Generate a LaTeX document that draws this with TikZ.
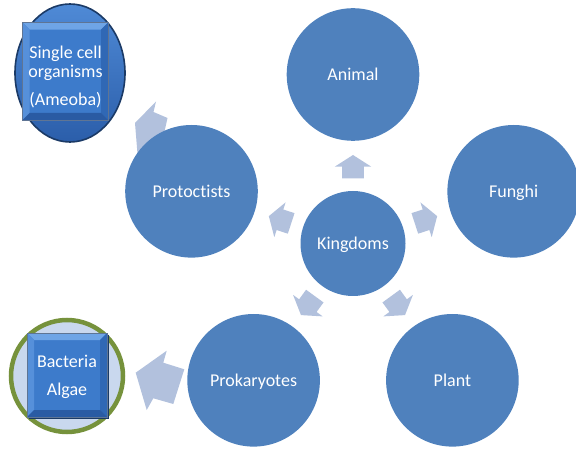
\documentclass[tikz,border=0pt]{standalone}
\usepackage{fontspec}
\setmainfont{Carlito}[Ligatures=NoCommon]
\usetikzlibrary{shapes.geometric}
\definecolor{circblue}{HTML}{4F81BD}
\definecolor{arrowblue}{HTML}{B2C1DD}
\definecolor{bevtop}{HTML}{6FA5E6}
\definecolor{bevleft}{HTML}{5690DA}
\definecolor{bevright}{HTML}{3068B5}
\definecolor{bevbot}{HTML}{2A5BA3}
\definecolor{bevmid}{HTML}{3D7BCB}
\definecolor{rimnavy}{HTML}{1B3A66}
\definecolor{ringtop}{HTML}{4F8AD6}
\definecolor{ringbot}{HTML}{2B5EAA}
\definecolor{ringgreen}{HTML}{76923C}
\definecolor{palefill}{HTML}{C9D8EE}
\newcommand\bevelrect[4]{%
  \fill[bevmid] (#1,#2) rectangle (#3,#4);
  \fill[bevtop] (#1,#2) -- (#3,#2) -- (#3-7,#2+7) -- (#1+7,#2+7) -- cycle;
  \fill[bevleft] (#1,#2) -- (#1+7,#2+7) -- (#1+7,#4-7) -- (#1,#4) -- cycle;
  \fill[bevright] (#3,#2) -- (#3-7,#2+7) -- (#3-7,#4-7) -- (#3,#4) -- cycle;
  \fill[bevbot] (#1,#4) -- (#1+7,#4-7) -- (#3-7,#4-7) -- (#3,#4) -- cycle;
  \draw[rimnavy!70, line width=0.6pt] (#1,#2) rectangle (#3,#4);
}
\tikzset{
  bigcirc/.style={circle, fill=circblue, inner sep=0pt, minimum size=132.6pt,
    text=white, font=\fontsize{18}{21}\selectfont, text height=12pt, text depth=0pt},
  kcirc/.style={bigcirc, minimum size=105pt},
  smallarrow/.style={fill=arrowblue},
  bigarrow/.style={fill=arrowblue},
  boxtext/.style={text=white, font=\fontsize{18}{21}\selectfont, anchor=base, inner sep=0pt}
}
\begin{document}
\begin{tikzpicture}[x=1pt,y=-1pt]
\useasboundingbox (0,0) rectangle (576,449);

% big arrows (behind circles)
\fill[bigarrow] (135.7,372.7) -- (166.7,350.7) -- (163.3,362.7) -- (184.3,369.3)
  -- (173.3,404) -- (153.3,398.3) -- (146.7,410) -- cycle;
\fill[bigarrow] (135,123) -- (156,101.5) -- (153.5,112) -- (167.5,118)
  -- (160,152) -- (142,147) -- (137.5,154) -- cycle;

% central node
\node[kcirc] (kingdoms) at (353,243.5) {Kingdoms};

% small arrows
\foreach \ang in {90,18,-54,-126,162}{
  \begin{scope}[shift={(kingdoms.center)}, rotate=\ang]
    \fill[smallarrow] (65,-10.8) -- (76.8,-10.8) -- (76.8,-18.3) -- (88.5,0)
      -- (76.8,18.3) -- (76.8,10.8) -- (65,10.8) -- cycle;
  \end{scope}
}

% outer circles
\node[bigcirc] (animal) at (353,74.5) {Animal};
\node[bigcirc] (funghi) at (513.7,191.3) {Funghi};
\node[bigcirc] (plant) at (452.4,380.3) {Plant};
\node[bigcirc] (prokaryotes) at (253.6,380.3) {Prokaryotes};
\node[bigcirc] (protoctists) at (191.5,191.3) {Protoctists};

% Ameoba ellipse
\node[ellipse, draw=rimnavy, line width=1.6pt, top color=ringtop, bottom color=ringbot,
  minimum width=110pt, minimum height=138pt, inner sep=0pt] (ameobaring) at (70,73) {};
\bevelrect{22.7}{22.7}{108}{120}
\node[boxtext] (single) at (65.5,58.3) {Single cell};
\node[boxtext] (organisms) at (65.5,77.3) {organisms};
\node[boxtext] (ameoba) at (65.5,105.5) {(Ameoba)};

% Bacteria circle
\node[circle, draw=ringgreen, fill=palefill, line width=4.5pt, minimum size=112pt, inner sep=0pt]
  (bactring) at (67,376) {};
\fill[rimnavy] (28.5,334.5) rectangle (108.5,418.5);
\bevelrect{27}{333}{107}{417}
\node[boxtext] (bacteria) at (67,367.5) {Bacteria};
\node[boxtext] (algae) at (67,395) {Algae};
\end{tikzpicture}
\end{document}
